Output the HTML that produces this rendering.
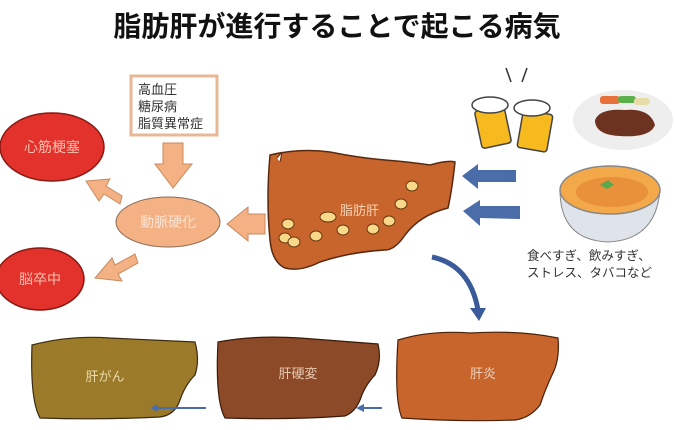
<!DOCTYPE html>
<html><head><meta charset="utf-8"><style>
body{margin:0;width:675px;height:430px;background:#fff;overflow:hidden;font-family:"Liberation Sans","Noto Sans CJK JP",sans-serif}
</style></head><body>
<svg width="675" height="430" viewBox="0 0 675 430" xmlns="http://www.w3.org/2000/svg" style="position:absolute;left:0;top:0" font-family="Liberation Sans, Noto Sans CJK JP, sans-serif">
<text x="337" y="36" text-anchor="middle" font-size="28" font-weight="bold" fill="#111">脂肪肝が進行することで起こる病気</text>
<!-- box -->
<rect x="131" y="76" width="86" height="59" fill="#fff" stroke="#e8b896" stroke-width="3"/>
<text x="138" y="94" font-size="13" fill="#333">高血圧</text>
<text x="138" y="111" font-size="13" fill="#333">糖尿病</text>
<text x="138" y="128" font-size="13" fill="#333">脂質異常症</text>
<!-- down arrow -->
<polygon points="163,143 183,143 183,164 192,164 173,188 155,164 163,164" fill="#f4b183" stroke="#c98a60" stroke-width="1"/>
<!-- red ellipses -->
<ellipse cx="52" cy="147" rx="52" ry="34" fill="#e3312b" stroke="#8a1a14" stroke-width="1.5"/>
<text x="52" y="152" text-anchor="middle" font-size="14" fill="#f6c0b0">心筋梗塞</text>
<ellipse cx="40" cy="279" rx="44" ry="31" fill="#e3312b" stroke="#8a1a14" stroke-width="1.5"/>
<text x="40" y="284" text-anchor="middle" font-size="14" fill="#f6c0b0">脳卒中</text>
<!-- arrows to red -->
<polygon points="120,200 104,190 99,197 86,177 110,175 106,182 122,192" fill="#f4b183" stroke="#c98a60" stroke-width="1" transform="translate(0,4)"/>
<polygon points="135,254 115,265 112,258 95,278 122,281 118,274 138,263" fill="#f4b183" stroke="#c98a60" stroke-width="1"/>
<!-- 動脈硬化 -->
<ellipse cx="168" cy="222" rx="52" ry="25" fill="#f4b183" stroke="#8a6a55" stroke-width="1"/>
<text x="168" y="227" text-anchor="middle" font-size="14" fill="#fbe3d0">動脈硬化</text>
<!-- arrow liver to 動脈 -->
<polygon points="265,214 265,234 248,234 248,241 227,224 248,207 248,214" fill="#f4b183" stroke="#c98a60" stroke-width="1"/>
<!-- fatty liver -->
<path d="M270,155 Q300,148 330,152 Q360,158 385,160 Q410,162 430,165 Q448,160 455,162 Q452,190 448,208 Q420,215 405,235 Q395,250 385,250 Q350,252 320,262 Q300,272 285,268 Q272,262 270,240 Q266,200 270,155Z" fill="#c8652c" stroke="#5a2a10" stroke-width="1.5"/>
<path d="M277,158 L282,152 L280,162" fill="#fff" stroke="#5a2a10" stroke-width="1"/>
<g fill="#f8d98a" stroke="#6a3a10" stroke-width="1">
<ellipse cx="288" cy="224" rx="6" ry="5"/><ellipse cx="285" cy="238" rx="6" ry="5"/><ellipse cx="294" cy="242" rx="6" ry="5"/>
<ellipse cx="316" cy="236" rx="6" ry="5"/><ellipse cx="328" cy="217" rx="8" ry="5"/><ellipse cx="343" cy="230" rx="6" ry="5"/>
<ellipse cx="373" cy="229" rx="6" ry="5"/><ellipse cx="389" cy="221" rx="6" ry="5"/><ellipse cx="401" cy="204" rx="6" ry="5"/><ellipse cx="412" cy="186" rx="6" ry="5"/>
</g>
<text x="340" y="215" font-size="13" fill="#f7d0b0">脂肪肝</text>
<!-- blue arrows -->
<polygon points="516,170 516,182 478,182 478,189 462,176 478,164 478,170" fill="#4a6ca8"/>
<polygon points="520,206 520,219 480,218 480,226 463,211 480,200 480,206" fill="#4a6ca8"/>
<!-- curved arrow -->
<path d="M432,257 Q470,265 478,310" fill="none" stroke="#3a5a9a" stroke-width="5"/>
<polygon points="470,308 486,308 479,321" fill="#3a5a9a"/>
<!-- beer -->
<line x1="506" y1="68" x2="511" y2="82" stroke="#333" stroke-width="1.5"/><line x1="527" y1="68" x2="522" y2="82" stroke="#333" stroke-width="1.5"/>
<g stroke="#444" stroke-width="1.5">
<rect x="478" y="108" width="30" height="38" rx="3" fill="#f6b91e" transform="rotate(-12 493 127)"/>
<ellipse cx="490" cy="105" rx="18" ry="8" fill="#fff"/>
<rect x="520" y="112" width="30" height="38" rx="3" fill="#f6b91e" transform="rotate(10 535 131)"/>
<ellipse cx="532" cy="108" rx="18" ry="8" fill="#fff"/>
</g>
<!-- steak -->
<ellipse cx="623" cy="120" rx="50" ry="30" fill="#eeeeee"/>
<path d="M595,120 Q600,108 625,110 Q650,108 655,125 Q650,138 620,136 Q595,135 595,120Z" fill="#6b3320"/>
<rect x="600" y="96" width="20" height="8" rx="3" fill="#e8703a"/><rect x="618" y="96" width="18" height="7" rx="3" fill="#5ab04a"/><rect x="634" y="98" width="16" height="7" rx="3" fill="#e8dca8"/>
<!-- bowl -->
<path d="M560,190 Q560,240 608,242 Q656,240 660,190Z" fill="#dfe3ea" stroke="#888" stroke-width="1"/>
<ellipse cx="610" cy="190" rx="50" ry="24" fill="#f3a94a" stroke="#888" stroke-width="1.5"/>
<ellipse cx="612" cy="192" rx="36" ry="15" fill="#e8903a"/>
<path d="M600,185 l8,-5 l6,5 l-7,4z" fill="#5aa84a"/>
<text x="527" y="260" font-size="12.5" fill="#333">食べすぎ、飲みすぎ、</text>
<text x="527" y="277" font-size="12.5" fill="#333">ストレス、タバコなど</text>
<!-- bottom livers -->
<path d="M32,345 Q70,335 110,338 Q150,340 195,342 Q200,360 195,375 Q185,385 180,400 Q175,415 160,417 Q100,420 40,418 Q30,400 32,345Z" fill="#9b7b2a" stroke="#3a2a10" stroke-width="1.2"/>
<text x="105" y="381" text-anchor="middle" font-size="13" fill="#e8d8a8">肝がん</text>
<path d="M218,342 Q255,335 300,338 Q340,341 378,344 Q382,360 375,375 Q365,385 360,400 Q355,412 345,416 Q290,420 225,418 Q215,400 218,342Z" fill="#8c4a28" stroke="#3a1a08" stroke-width="1.2"/>
<text x="298" y="378" text-anchor="middle" font-size="13" fill="#e8c8b0">肝硬変</text>
<path d="M398,340 Q430,330 470,333 Q520,330 558,338 Q560,360 552,375 Q545,390 540,405 Q530,418 515,420 Q460,422 402,418 Q394,400 398,340Z" fill="#c8652c" stroke="#4a2008" stroke-width="1.2"/>
<text x="483" y="378" text-anchor="middle" font-size="13" fill="#f0d0b8">肝炎</text>
<line x1="382" y1="408" x2="362" y2="408" stroke="#4a6ca8" stroke-width="2"/><polygon points="356,408 364,404 364,412" fill="#4a6ca8"/>
<line x1="206" y1="408" x2="157" y2="408" stroke="#4a6ca8" stroke-width="2"/><polygon points="150,408 158,404 158,412" fill="#4a6ca8"/>
</svg>
</body></html>
